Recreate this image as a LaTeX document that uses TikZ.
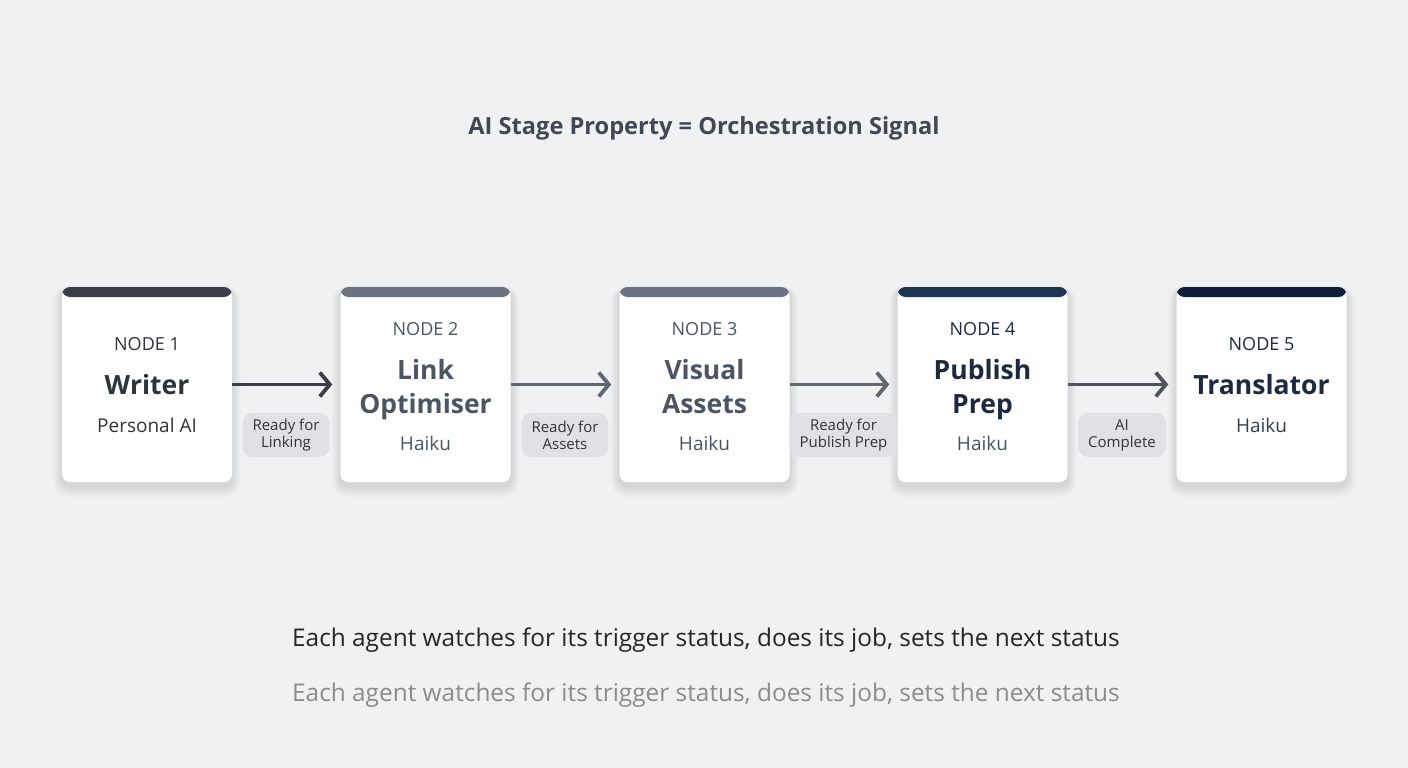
\documentclass[tikz,border=0pt]{standalone}
\usepackage{fontspec}
\setmainfont{Open Sans}
\usetikzlibrary{arrows.meta}

\definecolor{bgcol}{HTML}{F0F1F2}
\definecolor{pillcol}{HTML}{DFE1E4}
\definecolor{inkdark}{HTML}{2F343B}
\definecolor{inkgray}{HTML}{4B5563}
\definecolor{inknavy}{HTML}{1C2940}
\definecolor{barone}{HTML}{3A3F47}
\definecolor{bargray}{HTML}{6B7280}
\definecolor{barnavy}{HTML}{1F3352}
\definecolor{bardeep}{HTML}{0F1F38}

\tikzset{
  card/.style={draw=none, fill=white, rounded corners=8pt,
    minimum width=170pt, minimum height=195pt,
    path picture={\fill[#1] (path picture bounding box.north west) rectangle ([yshift=-10pt]path picture bounding box.north east);}},
  tag/.style={font=\fontsize{18}{21}\selectfont},
  head/.style={font=\fontsize{26.5}{34}\selectfont\bfseries, align=center},
  who/.style={font=\fontsize{19}{22}\selectfont},
  pill/.style={fill=pillcol, rounded corners=10pt, minimum height=44pt, inner xsep=10pt,
    align=center, font=\fontsize{15}{17}\selectfont, text=black!80},
  arr/.style={line width=3.8pt, -{Straight Barb[length=10pt,width=24pt,line width=3.8pt]}, shorten >=8pt}
}

\begin{document}
\begin{tikzpicture}[x=1pt,y=-1pt]
  \fill[bgcol] (0,0) rectangle (1408,768);

  % titulo
  \node[font=\fontsize{23.6}{28}\selectfont\bfseries, text=inkgray!85!black] (title) at (704,128) {AI Stage Property = Orchestration Signal};

  % sombra suave dos cartoes
  \foreach \cx in {147,425.5,704.5,982.5,1261.5}{
    \foreach \k in {1,...,9}{
      \fill[black, opacity=0.011, rounded corners=8+\k] (\cx-85-\k,290-0.5*\k) rectangle (\cx+85+\k,486+1.3*\k);
    }
  }

  % cartoes
  \node[card=barone] (c1) at (147,384.5) {};
  \node[card=bargray] (c2) at (425.5,384.5) {};
  \node[card=bargray] (c3) at (704.5,384.5) {};
  \node[card=barnavy] (c4) at (982.5,384.5) {};
  \node[card=bardeep] (c5) at (1261.5,384.5) {};

  % textos dos cartoes
  \node[tag, text=inkdark] (t1) at (147,344) {NODE 1};
  \node[head, text=inkdark] (h1) at (147,385) {Writer};
  \node[who, text=inkdark] (w1) at (147,425) {Personal AI};

  \node[tag, text=inkgray] (t2) at (425.5,329) {NODE 2};
  \node[head, text=inkgray] (h2) at (425.5,390) {Link\\Optimiser};
  \node[who, text=inkgray] (w2) at (425.5,443) {Haiku};

  \node[tag, text=inkgray] (t3) at (704.5,329) {NODE 3};
  \node[head, text=inkgray] (h3) at (704.5,387) {Visual\\Assets};
  \node[who, text=inkgray] (w3) at (704.5,443) {Haiku};

  \node[tag, text=inknavy] (t4) at (982.5,329) {NODE 4};
  \node[head, text=inknavy] (h4) at (982.5,390) {Publish\\Prep};
  \node[who, text=inknavy!80] (w4) at (982.5,443) {Haiku};

  \node[tag, text=inknavy] (t5) at (1261.5,344) {NODE 5};
  \node[head, text=inknavy] (h5) at (1261.5,385) {Translator};
  \node[who, text=inknavy!90] (w5) at (1261.5,425) {Haiku};

  % setas
  \draw[arr, barone] (c1) -- (c2);
  \draw[arr, bargray!90!black] (c2) -- (c3);
  \draw[arr, bargray!90!black] (c3) -- (c4);
  \draw[arr, barone!90!white] (c4) -- (c5);

  % estados
  \node[pill] (s1) at (286,435) {Ready for\\Linking};
  \node[pill] (s2) at (565,435) {Ready for\\Assets};
  \node[pill] (s3) at (843.5,435) {Ready for\\Publish Prep};
  \node[pill] (s4) at (1122,435) {AI\\Complete};

  % rodape
  \node[font=\fontsize{24.4}{28}\selectfont, text=black!85] (foot) at (706,640) {Each agent watches for its trigger status, does its job, sets the next status};
  \node[font=\fontsize{24.4}{28}\selectfont, text=black!45] (echo) at (706,695) {Each agent watches for its trigger status, does its job, sets the next status};
\end{tikzpicture}
\end{document}
